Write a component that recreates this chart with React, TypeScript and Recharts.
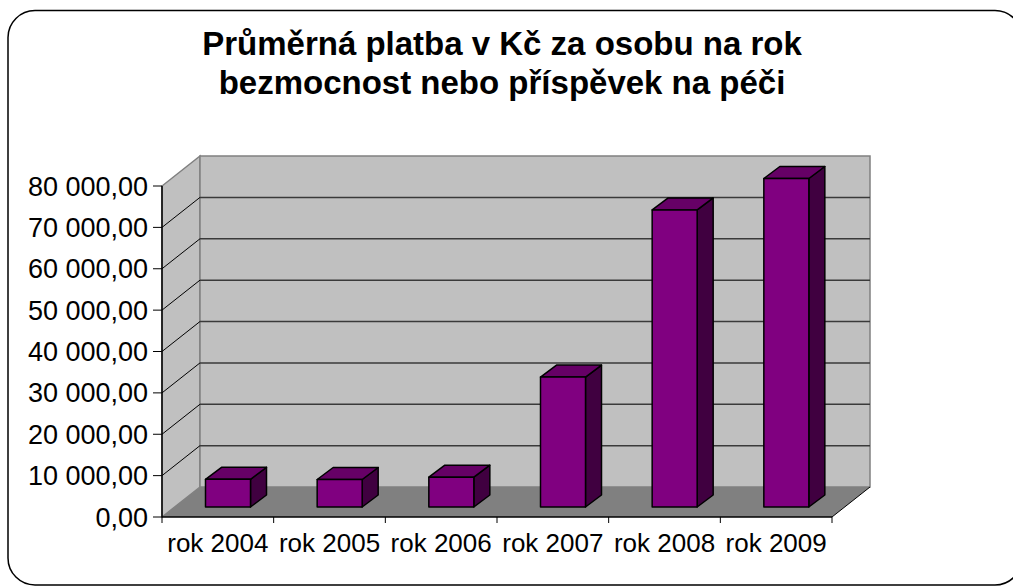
import React from "react";
import { BarChart, Bar, XAxis, YAxis, CartesianGrid } from "recharts";

const years = ["rok 2004", "rok 2005", "rok 2006", "rok 2007", "rok 2008", "rok 2009"];
const payments = [6700, 6650, 7200, 31400, 71800, 79400];
const yTicks = [0, 10000, 20000, 30000, 40000, 50000, 60000, 70000, 80000];
const titleLines = ["Průměrná platba v Kč za osobu na rok", "bezmocnost nebo příspěvek na péči"];

const data = years.map((year, i) => ({ year, value: payments[i] }));

const W = 1013;
const H = 587;
// front plane of the 3D box (the plot area)
const F = { left: 162, right: 832, top: 186, bottom: 517 };
const WALL = { dx: 38, dy: -30 };
const SHIFT = { dx: 10, dy: -10 };
const DEPTH = { dx: 16, dy: -12 };
const FONT = "'Liberation Sans', Arial, sans-serif";
const Y_AXIS_W = 150;
const X_AXIS_H = 50;
const band = (F.right - F.left) / years.length;

const fmt = (n: number) => String(Math.round(n)).replace(/\B(?=(\d{3})+(?!\d))/g, " ") + ",00";

function Bar3D(props: any) {
  const { x, y, width, height } = props;
  if (!width || height == null) return null;
  const fx = x + SHIFT.dx;
  const fy = y + SHIFT.dy;
  const { dx, dy } = DEPTH;
  const top = `${fx},${fy} ${fx + dx},${fy + dy} ${fx + width + dx},${fy + dy} ${fx + width},${fy}`;
  const side = `${fx + width},${fy} ${fx + width + dx},${fy + dy} ${fx + width + dx},${fy + height + dy} ${fx + width},${fy + height}`;
  return (
    <g stroke="#000" strokeWidth={1.5} strokeLinejoin="round">
      <polygon points={side} fill="#400040" />
      <polygon points={top} fill="#660066" />
      <rect x={fx} y={fy} width={width} height={height} fill="#800080" />
    </g>
  );
}

function gridLine(props: any) {
  const { x1, y1, x2, key } = props;
  if (Math.abs(y1 - F.bottom) < 1 || Math.abs(y1 - F.top) < 1) return <g key={key} />;
  return (
    <g key={key}>
      <line x1={x1} y1={y1} x2={x1 + WALL.dx} y2={y1 + WALL.dy} stroke="#000" strokeWidth={1} />
      <line x1={x1 + WALL.dx} y1={y1 + WALL.dy} x2={x2 + WALL.dx} y2={y1 + WALL.dy} stroke="#3a3a3a" strokeWidth={1.5} />
    </g>
  );
}

function XTick(props: any) {
  const { x, y, payload, index } = props;
  const left = x - band / 2;
  return (
    <g>
      <line x1={left} y1={y} x2={left} y2={y + 6} stroke="#000" />
      {index === years.length - 1 && <line x1={left + band} y1={y} x2={left + band} y2={y + 6} stroke="#000" />}
      <text x={x} y={y + 35} textAnchor="middle" fontSize={26} fontFamily={FONT} fill="#000">
        {payload.value}
      </text>
    </g>
  );
}

function Box() {
  const bx = F.left + WALL.dx;
  const by = F.top + WALL.dy;
  const br = F.right + WALL.dx;
  const bb = F.bottom + WALL.dy;
  return (
    <svg width={W} height={H} style={{ position: "absolute", left: 0, top: 0 }}>
      <rect x={8} y={10.5} width={1014} height={574.5} rx={27} fill="#fff" stroke="#000" strokeWidth={1.5} />
      {titleLines.map((t, i) => (
        <text key={i} x={502} y={55 + i * 39} textAnchor="middle" fontSize={33} fontWeight="bold" fontFamily={FONT} fill="#000">
          {t}
        </text>
      ))}
      <polygon points={`${F.left},${F.bottom} ${bx},${bb} ${bx},${by} ${F.left},${F.top}`} fill="#c0c0c0" stroke="#808080" strokeWidth={1.5} />
      <rect x={bx} y={by} width={br - bx} height={bb - by} fill="#c0c0c0" stroke="#808080" strokeWidth={1.5} />
      <polygon points={`${F.left},${F.bottom} ${bx},${bb} ${br},${bb} ${F.right},${F.bottom}`} fill="#808080" />
      <line x1={F.right} y1={F.bottom} x2={br} y2={bb} stroke="#000" strokeWidth={1} />
    </svg>
  );
}

export default function App() {
  return (
    <div style={{ position: "fixed", left: 0, top: 0, width: W, height: H, overflow: "hidden", background: "#fff" }}>
      <Box />
      <div style={{ position: "absolute", left: 0, top: 0 }}>
        <BarChart
          width={W}
          height={H}
          data={data}
          barCategoryGap="30%"
          margin={{ top: F.top, right: W - F.right, bottom: H - F.bottom - X_AXIS_H, left: F.left - Y_AXIS_W }}
        >
          <CartesianGrid vertical={false} horizontal={gridLine} />
          <XAxis
            dataKey="year"
            height={X_AXIS_H}
            tickLine={false}
            tickSize={0}
            tickMargin={0}
            axisLine={{ stroke: "#000", strokeWidth: 1.5 }}
            tick={<XTick />}
            interval={0}
          />
          <YAxis
            width={Y_AXIS_W}
            domain={[0, 80000]}
            ticks={yTicks}
            tickFormatter={fmt}
            tickSize={9}
            tickMargin={5}
            axisLine={{ stroke: "#000", strokeWidth: 1.5 }}
            tickLine={{ stroke: "#000" }}
            tick={{ fill: "#000", fontSize: 27, fontFamily: FONT }}
          />
          <Bar dataKey="value" shape={<Bar3D />} isAnimationActive={false} />
        </BarChart>
      </div>
    </div>
  );
}
